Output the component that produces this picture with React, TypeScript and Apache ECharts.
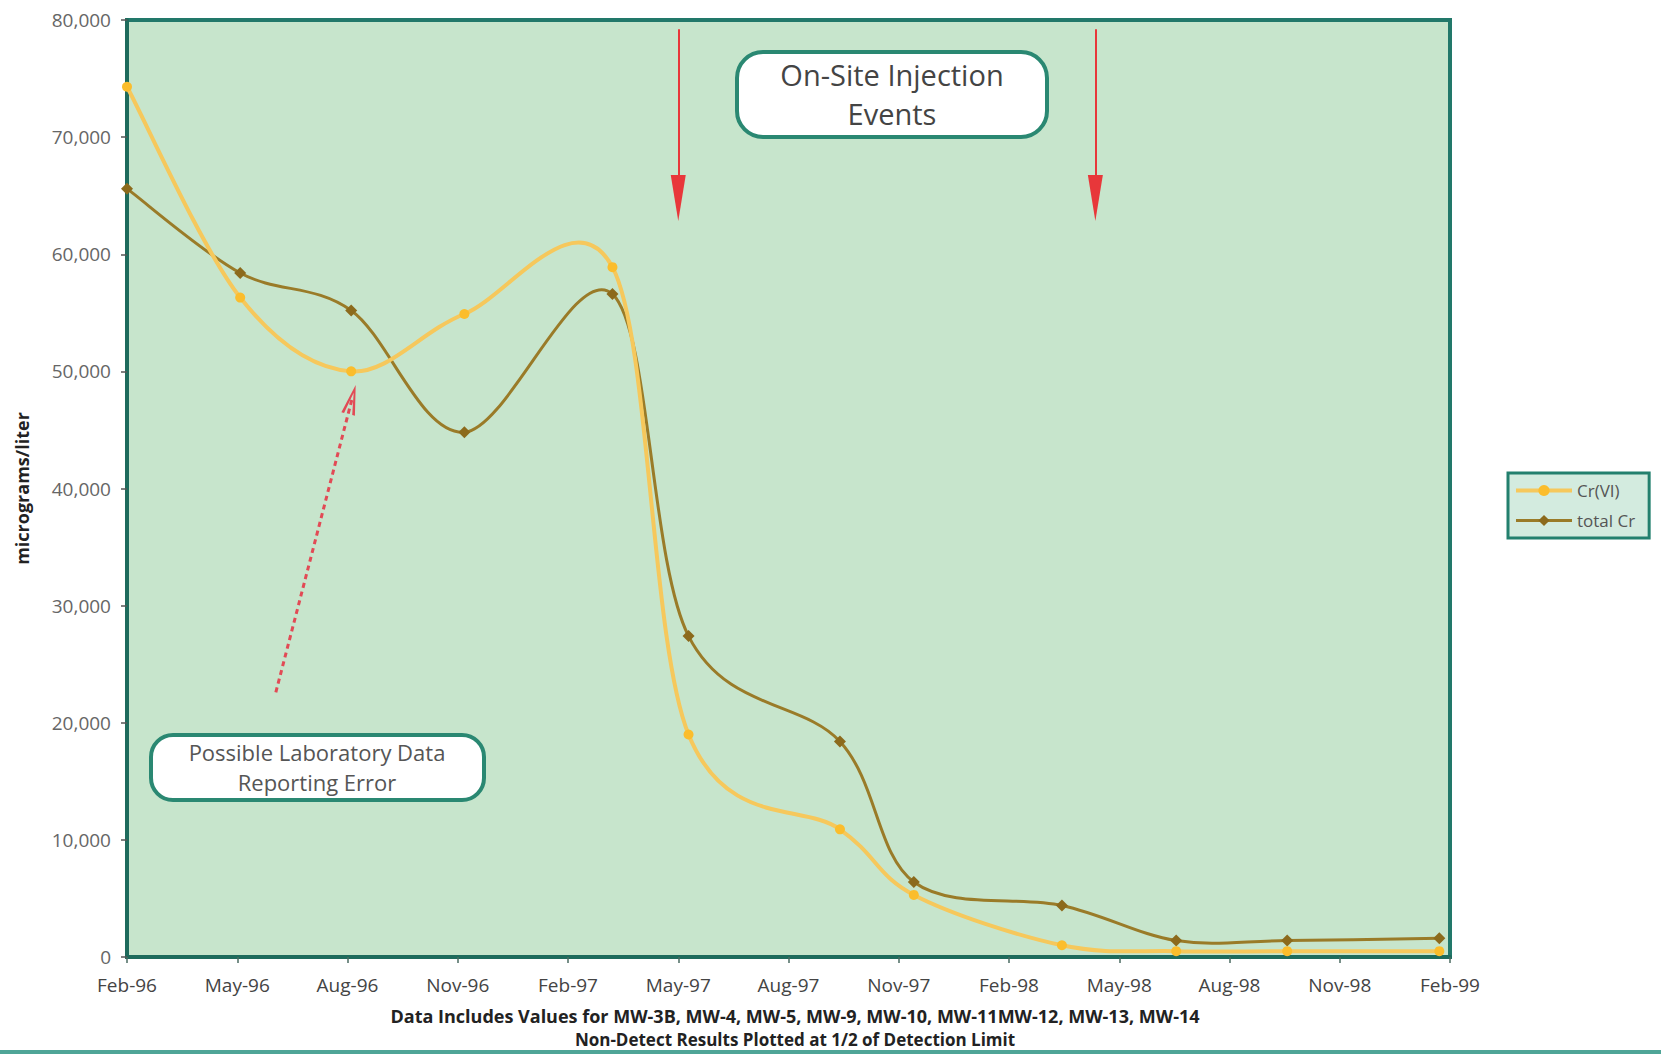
import React, { useEffect, useRef } from "react";
import * as echarts from "echarts";

// months since Feb-96
const tickLabels = [
  "Feb-96", "May-96", "Aug-96", "Nov-96", "Feb-97", "May-97", "Aug-97",
  "Nov-97", "Feb-98", "May-98", "Aug-98", "Nov-98", "Feb-99",
];
const sampleMonths = [0, 3.08, 6.1, 9.18, 13.21, 15.28, 19.4, 21.41, 25.44, 28.55, 31.57, 35.71];
const crVI = [74300, 56300, 50000, 54900, 58900, 19000, 10900, 5300, 1000, 500, 500, 500];
const totalCr = [65600, 58400, 55200, 44800, 56600, 27400, 18400, 6400, 4400, 1400, 1400, 1600];

// annotation anchors (data units)
const injectionMonths = [15.0, 26.35];
const arrowTop = 79200;
const arrowHeadCenter = 64800;
const labErrorFrom = [4.05, 22600];
const labErrorTo = [6.12, 47600];

const FONT = "'Open Sans', 'Noto Sans', sans-serif";
const CRVI_LINE = "#f6c85c";
const CRVI_MARK = "#fbbd2c";
const TOT_LINE = "#9a7b28";
const TOT_MARK = "#8c6a1c";

// Excel-style smoothed line drawn segment by segment through the axes
function smoothCurve(values: number[], color: string, width: number) {
  return (params: any, api: any) => {
    const i = params.dataIndex;
    const n = values.length;
    if (i >= n - 1) return { type: "group", children: [] };
    const pt = (k: number) => api.coord([sampleMonths[k], values[k]]);
    const p0 = pt(Math.max(i - 1, 0));
    const p1 = pt(i);
    const p2 = pt(i + 1);
    const p3 = pt(Math.min(i + 2, n - 1));
    const t = 1 / 6;
    return {
      type: "bezierCurve",
      shape: {
        x1: p1[0],
        y1: p1[1],
        x2: p2[0],
        y2: p2[1],
        cpx1: p1[0] + (p2[0] - p0[0]) * t,
        cpy1: p1[1] + (p2[1] - p0[1]) * t,
        cpx2: p2[0] - (p3[0] - p1[0]) * t,
        cpy2: p2[1] - (p3[1] - p1[1]) * t,
      },
      style: { stroke: color, lineWidth: width, fill: "none", lineCap: "round" },
    };
  };
}

export default function App() {
  const ref = useRef<HTMLDivElement>(null);
  useEffect(() => {
    if (!ref.current) return;
    const chart = echarts.init(ref.current, undefined, { renderer: "svg" });
    const redArrow = "path://M5,0 L10,30 L0,30 Z";
    const injectionLines = injectionMonths.map((m) => [
      { coord: [m, arrowTop], symbol: "none" },
      { coord: [m, arrowHeadCenter], symbol: redArrow, symbolSize: [15, 46] },
    ]);
    chart.setOption({
      animation: false,
      backgroundColor: "#ffffff",
      textStyle: { fontFamily: FONT },
      grid: {
        left: 127,
        right: 211,
        top: 20,
        bottom: 97,
        show: true,
        backgroundColor: "#c7e5cc",
        borderColor: "#22786a",
        borderWidth: 4,
      },
      legend: {
        orient: "vertical",
        left: 1508,
        top: 473,
        data: [
          { name: "Cr(VI)", lineStyle: { color: CRVI_LINE, width: 4, opacity: 1 } },
          { name: "total Cr", lineStyle: { color: TOT_LINE, width: 3, opacity: 1 } },
        ],
        backgroundColor: "#d3ebdf",
        borderColor: "#23806e",
        borderWidth: 3,
        borderRadius: 0,
        padding: [9, 14, 9, 6],
        itemWidth: 56,
        itemHeight: 14,
        itemGap: 13,
        textStyle: { fontSize: 17, color: "#555", fontFamily: FONT },
      },
      xAxis: {
        type: "value",
        min: 0,
        max: 36,
        interval: 3,
        axisLine: { show: true, lineStyle: { color: "#1e6b5c", width: 4 } },
        axisTick: { show: true, length: 6, lineStyle: { color: "#4a6a60", width: 1.5 } },
        splitLine: { show: false },
        axisLabel: {
          margin: 18,
          fontSize: 19,
          color: "#444",
          fontFamily: FONT,
          showMaxLabel: true,
          showMinLabel: true,
          formatter: (v: number) => tickLabels[Math.round(v / 3)] ?? "",
        },
      },
      yAxis: {
        type: "value",
        min: 0,
        max: 80000,
        interval: 10000,
        name: "micrograms/liter",
        nameLocation: "middle",
        nameGap: 96,
        nameTextStyle: { fontSize: 18, fontWeight: "bold", color: "#222", fontFamily: FONT },
        axisLine: { show: true, lineStyle: { color: "#1e6b5c", width: 4 } },
        axisTick: { show: true, length: 6, lineStyle: { color: "#555", width: 1.5 } },
        splitLine: { show: false },
        axisLabel: {
          margin: 16,
          fontSize: 19,
          color: "#666",
          fontFamily: FONT,
          formatter: (v: number) => v.toLocaleString("en-US"),
        },
      },
      series: [
        {
          name: "total Cr curve",
          type: "custom",
          z: 2,
          silent: true,
          data: sampleMonths.map((m, i) => [m, totalCr[i]]),
          encode: { x: 0, y: 1 },
          renderItem: smoothCurve(totalCr, TOT_LINE, 3),
          markLine: {
            silent: true,
            animation: false,
            label: { show: false },
            emphasis: { disabled: true },
            data: [
              [
                { coord: labErrorFrom, symbol: "none" },
                {
                  coord: labErrorTo,
                  symbol: "path://M0,30 L5,0 L10,30 L8,30 L5,8 L2,30 Z",
                  symbolSize: [14, 30],
                },
              ],
            ],
            lineStyle: { color: "#e24a55", width: 3, type: [5, 4] },
          },
        },
        {
          name: "Cr(VI) curve",
          type: "custom",
          z: 3,
          silent: true,
          data: sampleMonths.map((m, i) => [m, crVI[i]]),
          encode: { x: 0, y: 1 },
          renderItem: smoothCurve(crVI, CRVI_LINE, 4),
          markLine: {
            silent: true,
            animation: false,
            label: { show: false },
            emphasis: { disabled: true },
            data: injectionLines,
            lineStyle: { color: "#e8373a", width: 2, type: "solid" },
          },
        },
        {
          name: "total Cr",
          type: "line",
          z: 4,
          data: sampleMonths.map((m, i) => [m, totalCr[i]]),
          lineStyle: { color: TOT_LINE, width: 3, opacity: 0 },
          itemStyle: { color: TOT_MARK },
          symbol: "diamond",
          symbolSize: 12,
        },
        {
          name: "Cr(VI)",
          type: "line",
          z: 5,
          data: sampleMonths.map((m, i) => [m, crVI[i]]),
          lineStyle: { color: CRVI_LINE, width: 4, opacity: 0 },
          itemStyle: { color: CRVI_MARK },
          symbol: "circle",
          symbolSize: 10,
        },
      ],
      graphic: [
        {
          type: "group",
          children: [
            {
              type: "rect",
              shape: { x: 737, y: 52, width: 310, height: 85, r: 26 },
              style: { fill: "#ffffff", stroke: "#2a8872", lineWidth: 4 },
            },
            {
              type: "text",
              x: 892,
              y: 74,
              style: {
                text: "On-Site Injection",
                fontSize: 29,
                fontFamily: FONT,
                fill: "#444",
                align: "center",
                verticalAlign: "middle",
              },
            },
            {
              type: "text",
              x: 892,
              y: 113,
              style: {
                text: "Events",
                fontSize: 29,
                fontFamily: FONT,
                fill: "#444",
                align: "center",
                verticalAlign: "middle",
              },
            },
            {
              type: "rect",
              shape: { x: 151, y: 735, width: 333, height: 65, r: 22 },
              style: { fill: "#ffffff", stroke: "#2a8872", lineWidth: 4 },
            },
            {
              type: "text",
              x: 317,
              y: 752,
              style: {
                text: "Possible Laboratory Data",
                fontSize: 22,
                fontFamily: FONT,
                fill: "#555",
                align: "center",
                verticalAlign: "middle",
              },
            },
            {
              type: "text",
              x: 317,
              y: 782,
              style: {
                text: "Reporting Error",
                fontSize: 22,
                fontFamily: FONT,
                fill: "#555",
                align: "center",
                verticalAlign: "middle",
              },
            },
            {
              type: "text",
              x: 795,
              y: 1016,
              style: {
                text: "Data Includes Values for MW-3B, MW-4, MW-5, MW-9, MW-10, MW-11MW-12, MW-13, MW-14",
                fontSize: 18,
                fontWeight: "bold",
                fontFamily: FONT,
                fill: "#222",
                align: "center",
                verticalAlign: "middle",
              },
            },
            {
              type: "text",
              x: 795,
              y: 1039,
              style: {
                text: "Non-Detect Results Plotted at 1/2 of Detection Limit",
                fontSize: 17,
                fontWeight: "bold",
                fontFamily: FONT,
                fill: "#222",
                align: "center",
                verticalAlign: "middle",
              },
            },
            {
              type: "rect",
              shape: { x: 0, y: 1050, width: 1661, height: 4 },
              style: { fill: "#4fa597" },
            },
          ],
        },
      ],
    });
    return () => chart.dispose();
  }, []);
  return (
    <div
      ref={ref}
      style={{ position: "fixed", left: 0, top: 0, width: 1661, height: 1054, background: "#fff" }}
    />
  );
}
